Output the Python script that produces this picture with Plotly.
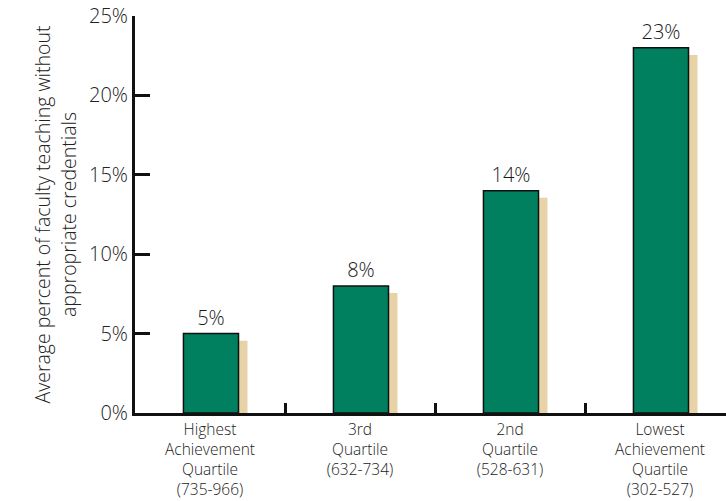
import plotly.graph_objects as go

categories = ["Highest<br>Achievement<br>Quartile<br>(735-966)",
              "3rd<br>Quartile<br>(632-734)",
              "2nd<br>Quartile<br>(528-631)",
              "Lowest<br>Achievement<br>Quartile<br>(302-527)"]
values = [5, 8, 14, 23]
value_labels = ["5%", "8%", "14%", "23%"]
y_ticks = [0, 5, 10, 15, 20, 25]
y_tick_labels = ["0%", "5%", "10%", "15%", "20%", "25%"]

FONT = "Open Sans"
shadow_drop = 0.45

fig = go.Figure()
fig.add_trace(go.Bar(
    x=categories, y=[v - shadow_drop for v in values],
    width=0.367, offset=-0.117,
    marker=dict(color="#E8D3A9", line=dict(width=0)),
    hoverinfo="skip", showlegend=False,
))
fig.add_trace(go.Bar(
    x=categories, y=values,
    width=0.367, offset=-0.177,
    marker=dict(color="#00805F", line=dict(color="#111111", width=1.5)),
    text=value_labels, textposition="outside", cliponaxis=False,
    textfont=dict(family=FONT, size=20, color="#1a1a1a", weight=300),
    showlegend=False,
))

fig.update_layout(
    width=726, height=501,
    margin=dict(l=135, r=0, t=16, b=88),
    paper_bgcolor="white", plot_bgcolor="white",
    barmode="overlay",
    font=dict(family=FONT, color="#1a1a1a", weight=300),
    xaxis=dict(
        type="category", automargin=False,
        range=[-0.5, 3.44],
        tickson="boundaries", ticks="inside", ticklen=10, tickwidth=3,
        tickcolor="#111111",
        showline=True, linecolor="#111111", linewidth=3,
        showgrid=False, zeroline=False,
        ticklabelstandoff=0,
        tickfont=dict(family=FONT, size=15.5, color="#222222", weight=300),
    ),
    yaxis=dict(
        range=[0, 25], automargin=False,
        tickmode="array", tickvals=y_ticks, ticktext=y_tick_labels,
        ticks="inside", ticklen=15, tickwidth=3, tickcolor="#111111",
        showline=True, linecolor="#111111", linewidth=3,
        showgrid=False, zeroline=False,
        tickfont=dict(family=FONT, size=20, color="#222222", weight=300),
        title=dict(text="Average percent of faculty teaching without<br>appropriate credentials",
                   font=dict(family=FONT, size=19.5, color="#222222", weight=300), standoff=8),
    ),
)

fig.write_html("out.html")
